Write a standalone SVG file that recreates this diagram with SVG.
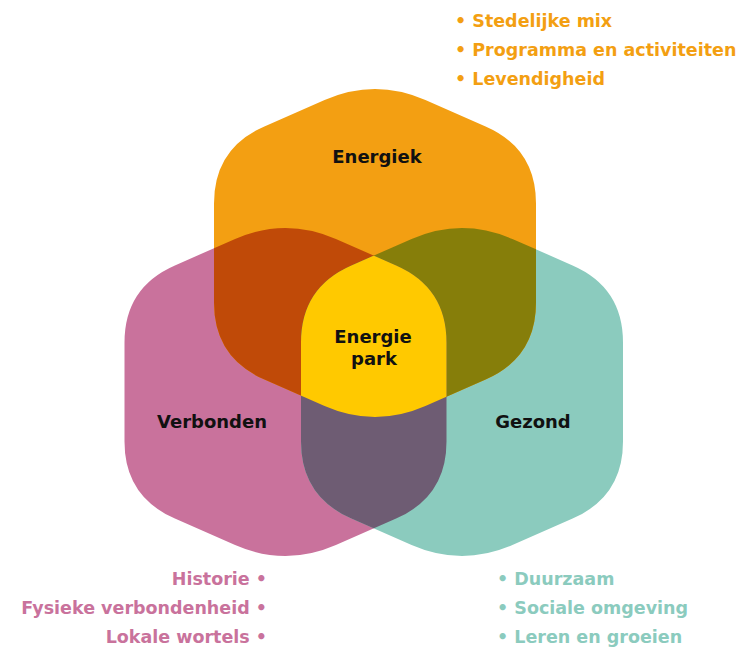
<svg xmlns="http://www.w3.org/2000/svg" width="740" height="648" viewBox="0 0 740 648">
<style>
.lbl{font-family:"DejaVu Sans","Liberation Sans",sans-serif;font-weight:bold;font-size:18px;fill:#111;text-anchor:middle}
.li{font-family:"DejaVu Sans","Liberation Sans",sans-serif;font-weight:bold;font-size:17.5px}
.to{fill:#F39F12}
.tp{fill:#C9729C;text-anchor:end}
.tt{fill:#8BCBBE}
</style>
<defs>
<path id="hex" d="M -50.4,-153 Q 0,-175 50.4,-153 L 110.6,-126.6 Q 161,-104.6 161,-49.6 L 161,49.6 Q 161,104.6 110.6,126.6 L 50.4,153 Q 0,175 -50.4,153 L -110.6,126.6 Q -161,104.6 -161,49.6 L -161,-49.6 Q -161,-104.6 -110.6,-126.6 Z"/>
<clipPath id="cO"><path transform="translate(375,253)" d="M -50.4,-153 Q 0,-175 50.4,-153 L 110.6,-126.6 Q 161,-104.6 161,-49.6 L 161,49.6 Q 161,104.6 110.6,126.6 L 50.4,153 Q 0,175 -50.4,153 L -110.6,126.6 Q -161,104.6 -161,49.6 L -161,-49.6 Q -161,-104.6 -110.6,-126.6 Z"/></clipPath>
<clipPath id="cP"><path transform="translate(285.5,392)" d="M -50.4,-153 Q 0,-175 50.4,-153 L 110.6,-126.6 Q 161,-104.6 161,-49.6 L 161,49.6 Q 161,104.6 110.6,126.6 L 50.4,153 Q 0,175 -50.4,153 L -110.6,126.6 Q -161,104.6 -161,49.6 L -161,-49.6 Q -161,-104.6 -110.6,-126.6 Z"/></clipPath>
</defs>
<rect width="740" height="648" fill="#fff"/>
<g id="verbonden">
<use href="#hex" transform="translate(285.5,392)" fill="#C9729C"/>
<text class="lbl" x="212" y="428">Verbonden</text>
</g>
<g id="gezond">
<use href="#hex" transform="translate(462,392)" fill="#8BCBBE"/>
<text class="lbl" x="533" y="428">Gezond</text>
</g>
<g id="energiek">
<use href="#hex" transform="translate(375,253)" fill="#F39F12"/>
<text class="lbl" x="377" y="163">Energiek</text>
</g>
<g id="overlap-energiek-verbonden" clip-path="url(#cO)">
<use href="#hex" transform="translate(285.5,392)" fill="#C04A08"/>
</g>
<g id="overlap-energiek-gezond" clip-path="url(#cO)">
<use href="#hex" transform="translate(462,392)" fill="#867E0A"/>
</g>
<g id="overlap-verbonden-gezond" clip-path="url(#cP)">
<use href="#hex" transform="translate(462,392)" fill="#6E5C73"/>
</g>
<g id="energiepark">
<g clip-path="url(#cO)"><g clip-path="url(#cP)"><use href="#hex" transform="translate(462,392)" fill="#FFC900"/></g></g>
<text class="lbl" x="373" y="343">Energie</text>
<text class="lbl" x="374" y="365">park</text>
</g>
<g id="list-energiek">
<text class="li to" x="455" y="27">• Stedelijke mix</text>
<text class="li to" x="455" y="56">• Programma en activiteiten</text>
<text class="li to" x="455" y="85">• Levendigheid</text>
</g>
<g id="list-verbonden">
<text class="li tp" x="267" y="585">Historie •</text>
<text class="li tp" x="267" y="614">Fysieke verbondenheid •</text>
<text class="li tp" x="267" y="643">Lokale wortels •</text>
</g>
<g id="list-gezond">
<text class="li tt" x="497" y="585">• Duurzaam</text>
<text class="li tt" x="497" y="614">• Sociale omgeving</text>
<text class="li tt" x="497" y="643">• Leren en groeien</text>
</g>
</svg>
